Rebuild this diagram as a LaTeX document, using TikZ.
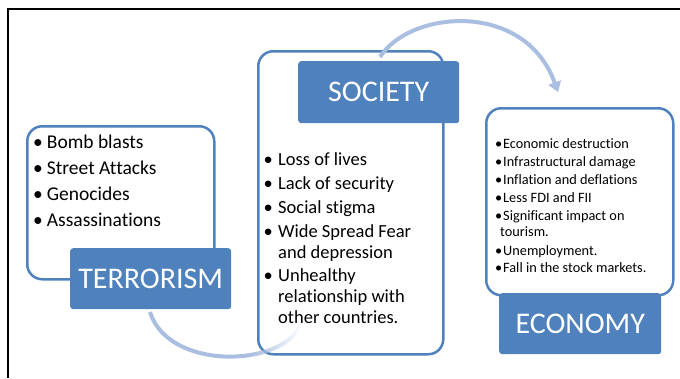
\documentclass[tikz,border=0pt]{standalone}
\usepackage{fontspec}
\setmainfont{Carlito}[Ligatures={NoCommon}]
\usetikzlibrary{arrows.meta,fadings}
\definecolor{boxblue}{HTML}{4F81BD}
\definecolor{arcblue}{HTML}{A9BEE0}
\tikzfading[name=arcfade, left color=transparent!0, right color=transparent!100]
\newcommand\bul[1]{\llap{\textbullet\hspace{#1}}}
\begin{document}
\begin{tikzpicture}[x=1pt,y=-1pt,
  outerbox/.style={draw=boxblue, line width=2.5pt, rounded corners=15pt, anchor=north west, inner sep=0pt},
  labelbox/.style={fill=boxblue, rounded corners=3pt, text=white, anchor=north west, inner sep=0pt,
    font=\fontsize{30}{30}\selectfont, text height=19.3pt, text depth=0pt},
  itemT/.style={anchor=base west, inner sep=0pt, font=\fontsize{19.5}{22}\selectfont},
  itemS/.style={anchor=base west, inner sep=0pt, font=\fontsize{18.5}{21}\selectfont},
  itemE/.style={anchor=base west, inner sep=0pt, font=\fontsize{14.3}{17}\selectfont},
  arcline/.style={draw=arcblue, line width=4pt}]
\useasboundingbox (0,0) rectangle (680,378);
% frame
\coordinate (f0) at (8.3,9.3);
\coordinate (f1) at (8.3,378);
\coordinate (f2) at (680,9.3);
\draw[line width=2pt] (f1) -- (f0) -- (f2);
% outer boxes
\node[outerbox, minimum width=187pt, minimum height=153pt] (terrbox) at (26,125) {};
\node[outerbox, minimum width=185pt, minimum height=303pt] (socbox) at (257,50) {};
\node[outerbox, minimum width=187pt, minimum height=187pt] (econbox) at (485,107) {};
% terrorism items
\node[itemT] (t1) at (46.7,148.3) {\bul{4pt}Bomb blasts};
\node[itemT] (t2) at (46.7,174.5) {\bul{4pt}Street Attacks};
\node[itemT] (t3) at (46.7,200.6) {\bul{4pt}Genocides};
\node[itemT] (t4) at (46.7,226.7) {\bul{4pt}Assassinations};
% society items
\node[itemS] (s1) at (278,165) {\bul{5.4pt}Loss of lives};
\node[itemS] (s2) at (278,189) {\bul{5.4pt}Lack of security};
\node[itemS] (s3) at (278,213) {\bul{5.4pt}Social stigma};
\node[itemS] (s4) at (278,237) {\bul{5.4pt}Wide Spread Fear};
\node[itemS] (s5) at (278,258) {and depression};
\node[itemS] (s6) at (278,281) {\bul{5.4pt}Unhealthy};
\node[itemS] (s7) at (278,302) {relationship with};
\node[itemS] (s8) at (278,323) {other countries.};
% economy items
\node[itemE] (e1) at (503,148.3) {\bul{1pt}Economic destruction};
\node[itemE] (e2) at (503,166.7) {\bul{1pt}Infrastructural damage};
\node[itemE] (e3) at (503,184.3) {\bul{1pt}Inflation and deflations};
\node[itemE] (e4) at (503,202.3) {\bul{1pt}Less FDI and FII};
\node[itemE] (e5) at (503,220) {\bul{1pt}Significant impact on};
\node[itemE] (e6) at (500,236.7) {tourism.};
\node[itemE] (e7) at (503,255) {\bul{1pt}Unemployment.};
\node[itemE] (e8) at (503,272.7) {\bul{1pt}Fall in the stock markets.};
% arcs
\coordinate (a1s) at (150,312);
\coordinate (a1m) at (253.1,354.5);
\coordinate (a1e) at (300,326);
\coordinate (a2s) at (380,57);
\coordinate (a2e) at (558,92);
\draw[arcline] (a1s) .. controls (161.7,349.7) and (213.1,362.05) .. (a1m);
\draw[arcline, path fading=arcfade, fit fading=true] (a1m) .. controls (274.7,350.5) and (293,340.7) .. (a1e);
\draw[arcline, -{Triangle[width=13pt,length=10pt]}, arcblue] (a2s) .. controls (410,10) and (525,0) .. (a2e);
% labels
\node[labelbox, minimum width=161pt, minimum height=61pt] (terr) at (70,248) {TERRORISM};
\node[labelbox, minimum width=161pt, minimum height=62pt] (soc) at (298,61) {SOCIETY};
\node[labelbox, minimum width=162pt, minimum height=61pt] (econ) at (499,293) {ECONOMY};
\end{tikzpicture}
\end{document}
